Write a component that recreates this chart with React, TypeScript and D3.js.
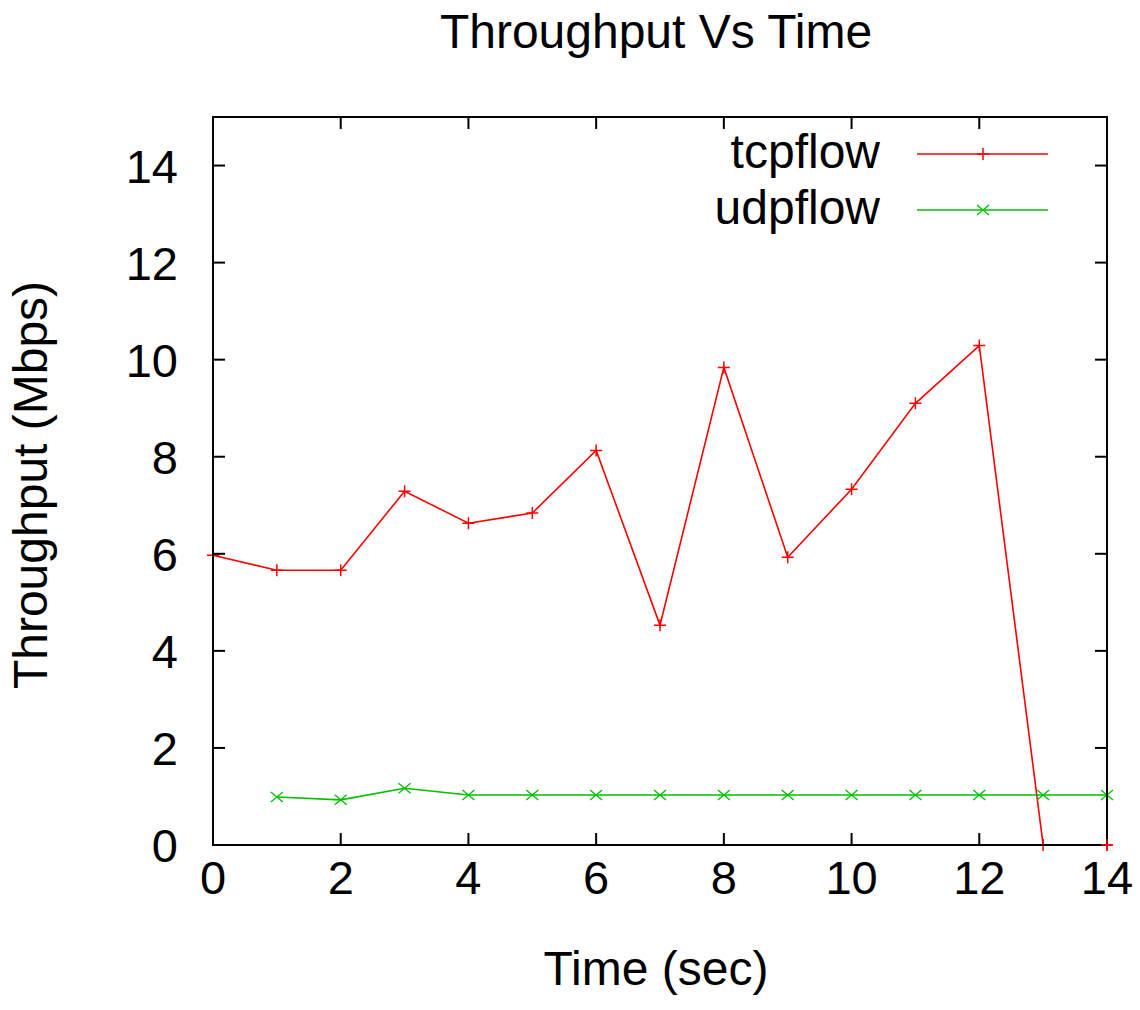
import React from "react";
import * as d3 from "d3";

const tcpTime = [0, 1, 2, 3, 4, 5, 6, 7, 8, 9, 10, 11, 12, 13, 14];
const tcpThroughput = [5.97, 5.66, 5.66, 7.29, 6.63, 6.84, 8.13, 4.53, 9.84, 5.93, 7.33, 9.1, 10.29, 0, 0];
const udpTime = [1, 2, 3, 4, 5, 6, 7, 8, 9, 10, 11, 12, 13, 14];
const udpThroughput = [0.99, 0.93, 1.17, 1.03, 1.03, 1.03, 1.03, 1.03, 1.03, 1.03, 1.03, 1.03, 1.03, 1.03];
const xTicks = [0, 2, 4, 6, 8, 10, 12, 14];
const yTicks = [0, 2, 4, 6, 8, 10, 12, 14];

const W = 1140, H = 1010;
const L = 213, R = 1107, T = 117, B = 845;
const FONT = "'Liberation Sans', Arial, sans-serif";

export default function App() {
  const x = d3.scaleLinear().domain([0, 14]).range([L, R]);
  const y = d3.scaleLinear().domain([0, 15]).range([B, T]);
  const line = d3.line<[number, number]>().x(d => x(d[0])).y(d => y(d[1]));
  const tcp: [number, number][] = tcpTime.map((t, i) => [t, tcpThroughput[i]]);
  const udp: [number, number][] = udpTime.map((t, i) => [t, udpThroughput[i]]);
  const red = "#ff0000";
  const green = "#00c000";
  const plus = (cx: number, cy: number, k: string) => (
    <path key={k} d={`M${cx - 6},${cy}H${cx + 6}M${cx},${cy - 6}V${cy + 6}`} stroke={red} strokeWidth={1.5} fill="none" />
  );
  const cross = (cx: number, cy: number, k: string) => (
    <path key={k} d={`M${cx - 6},${cy - 5}L${cx + 6},${cy + 5}M${cx - 6},${cy + 5}L${cx + 6},${cy - 5}`} stroke={green} strokeWidth={1.3} fill="none" />
  );
  const tickLen = 12;
  return (
    <svg width={W} height={H} style={{ position: "absolute", left: 0, top: 0, background: "#fff" }} fontFamily={FONT}>
      <rect width={W} height={H} fill="#fff" />
      <text x={656} y={48} textAnchor="middle" fontSize={48}>Throughput Vs Time</text>
      {/* data */}
      <path d={line(tcp) || ""} stroke={red} strokeWidth={1.6} fill="none" />
      <path d={line(udp) || ""} stroke={green} strokeWidth={1.6} fill="none" />
      {tcp.map((d, i) => plus(x(d[0]), y(d[1]), "t" + i))}
      {udp.map((d, i) => cross(x(d[0]), y(d[1]), "u" + i))}
      {/* frame and ticks */}
      <g stroke="#000" strokeWidth={2}>
        {xTicks.map(t => (
          <g key={"xt" + t}>
            <line x1={x(t)} x2={x(t)} y1={B} y2={B - tickLen} />
            <line x1={x(t)} x2={x(t)} y1={T} y2={T + tickLen} />
          </g>
        ))}
        {yTicks.map(t => (
          <g key={"yt" + t}>
            <line x1={L} x2={L + tickLen} y1={y(t)} y2={y(t)} />
            <line x1={R} x2={R - tickLen} y1={y(t)} y2={y(t)} />
          </g>
        ))}
        <rect x={L} y={T} width={R - L} height={B - T} fill="none" />
      </g>
      {plus(x(14), y(0), "tend")}
      {xTicks.map(t => (
        <text key={"xl" + t} x={x(t)} y={894} textAnchor="middle" fontSize={47}>{t}</text>
      ))}
      {yTicks.map(t => (
        <text key={"yl" + t} x={178} y={y(t) + 17} textAnchor="end" fontSize={47}>{t}</text>
      ))}
      <text x={656} y={985} textAnchor="middle" fontSize={48}>Time (sec)</text>
      <text transform={`translate(47,485) rotate(-90)`} textAnchor="middle" fontSize={48}>Throughput (Mbps)</text>
      {/* legend */}
      <text x={880} y={168} textAnchor="end" fontSize={48}>tcpflow</text>
      <line x1={917} x2={1048} y1={154} y2={154} stroke={red} strokeWidth={1.6} />
      {plus(983, 154, "lt")}
      <text x={880} y={224} textAnchor="end" fontSize={48}>udpflow</text>
      <line x1={917} x2={1048} y1={210} y2={210} stroke={green} strokeWidth={1.6} />
      {cross(983, 210, "lu")}
    </svg>
  );
}
